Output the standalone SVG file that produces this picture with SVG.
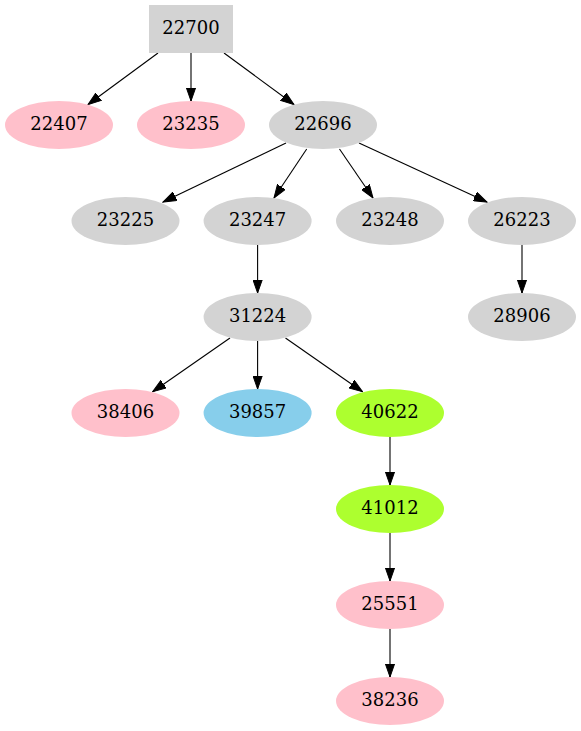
<svg xmlns="http://www.w3.org/2000/svg" width="581" height="731" viewBox="0 0 581 731">
<style>
text{font-family:"DejaVu Serif","Liberation Serif",serif;font-size:18px;text-anchor:middle;fill:#000}
.gray{fill:#d3d3d3}
.pink{fill:#ffc0cb}
.blue{fill:#87ceeb}
.green{fill:#adff2f}
.e line{stroke:#000;stroke-width:1.1;marker-end:url(#arr)}
</style>
<defs>
<marker id="arr" markerUnits="userSpaceOnUse" viewBox="0 0 14 10" refX="13.3" refY="5" markerWidth="14" markerHeight="10" orient="auto">
<path d="M0,0.33 L13.3,5 L0,9.67 z" fill="#000" stroke="#000" stroke-width="1"/>
</marker>
</defs>
<rect width="581" height="731" fill="#fff"/>
<g id="edges" class="e">
<line x1="158" y1="53" x2="88" y2="104.5"/>
<line x1="191" y1="53" x2="191" y2="101"/>
<line x1="224" y1="53" x2="294" y2="104.5"/>
<line x1="286" y1="143" x2="163" y2="202"/>
<line x1="306.7" y1="149" x2="274" y2="198"/>
<line x1="339.5" y1="149" x2="373" y2="198"/>
<line x1="359" y1="143" x2="487" y2="202"/>
<line x1="257.6" y1="245" x2="257.6" y2="293"/>
<line x1="522" y1="245" x2="522" y2="293"/>
<line x1="230" y1="338" x2="152.7" y2="391.7"/>
<line x1="257.6" y1="341" x2="257.6" y2="389"/>
<line x1="285.5" y1="338" x2="362.5" y2="391.7"/>
<line x1="390" y1="437" x2="390" y2="485"/>
<line x1="390" y1="533" x2="390" y2="581"/>
<line x1="390" y1="629" x2="390" y2="677"/>
</g>
<g id="n22700"><rect class="gray" x="149" y="5" width="84" height="48"/><text x="191" y="34.3">22700</text></g>
<g id="n22407"><ellipse class="pink" cx="59" cy="125" rx="54" ry="24"/><text x="59" y="130.3">22407</text></g>
<g id="n23235"><ellipse class="pink" cx="191" cy="125" rx="54" ry="24"/><text x="191" y="130.3">23235</text></g>
<g id="n22696"><ellipse class="gray" cx="323" cy="125" rx="54" ry="24"/><text x="323" y="130.3">22696</text></g>
<g id="n23225"><ellipse class="gray" cx="125.5" cy="221" rx="54" ry="24"/><text x="125.5" y="226.3">23225</text></g>
<g id="n23247"><ellipse class="gray" cx="257.6" cy="221" rx="54" ry="24"/><text x="257.6" y="226.3">23247</text></g>
<g id="n23248"><ellipse class="gray" cx="390" cy="221" rx="54" ry="24"/><text x="390" y="226.3">23248</text></g>
<g id="n26223"><ellipse class="gray" cx="522" cy="221" rx="54" ry="24"/><text x="522" y="226.3">26223</text></g>
<g id="n31224"><ellipse class="gray" cx="257.6" cy="317" rx="54" ry="24"/><text x="257.6" y="322.3">31224</text></g>
<g id="n28906"><ellipse class="gray" cx="522" cy="317" rx="54" ry="24"/><text x="522" y="322.3">28906</text></g>
<g id="n38406"><ellipse class="pink" cx="125.5" cy="413" rx="54" ry="24"/><text x="125.5" y="418.3">38406</text></g>
<g id="n39857"><ellipse class="blue" cx="257.6" cy="413" rx="54" ry="24"/><text x="257.6" y="418.3">39857</text></g>
<g id="n40622"><ellipse class="green" cx="390" cy="413" rx="54" ry="24"/><text x="390" y="418.3">40622</text></g>
<g id="n41012"><ellipse class="green" cx="390" cy="509" rx="54" ry="24"/><text x="390" y="514.3">41012</text></g>
<g id="n25551"><ellipse class="pink" cx="390" cy="605" rx="54" ry="24"/><text x="390" y="610.3">25551</text></g>
<g id="n38236"><ellipse class="pink" cx="390" cy="701" rx="54" ry="24"/><text x="390" y="706.3">38236</text></g>
</svg>
